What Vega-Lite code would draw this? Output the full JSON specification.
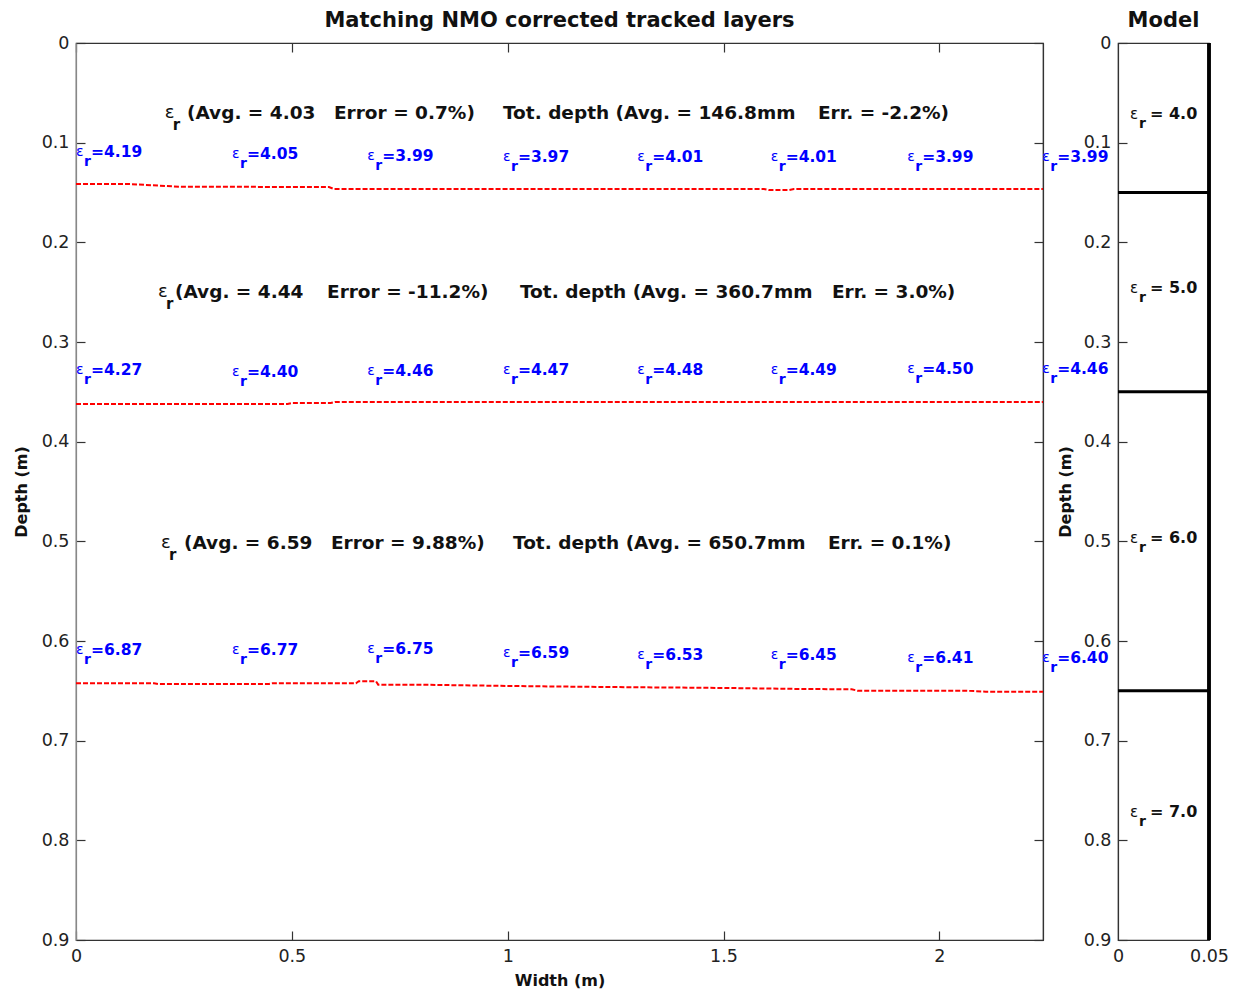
{
  "$schema": "https://vega.github.io/schema/vega-lite/v6.json",
  "padding": {"left": 12, "top": 9, "right": 5, "bottom": 5},
  "bounds": "flush",
  "spacing": 75,
  "config": {
    "font": "DejaVu Sans",
    "view": {"stroke": "#333", "strokeWidth": 1.2},
    "axis": {
      "grid": false, "domainColor": "#333", "tickColor": "#333", "domainWidth": 1.2, "tickWidth": 1.2,
      "labelFont": "DejaVu Sans", "labelFontSize": 17.5, "labelColor": "#222", "labelFlush": false,
      "titleFont": "DejaVu Sans", "titleFontWeight": "bold", "titleFontSize": 16, "titleColor": "#111",
      "tickSize": -9, "labelPadding": 16
    },
    "title": {"font": "DejaVu Sans", "fontSize": 21, "fontWeight": "bold", "color": "#111"}
  },
  "datasets": {
    "lines": [
      {"layer": 1, "x": 0, "depth": 0.1415}, {"layer": 1, "x": 0.1228, "depth": 0.1415}, {"layer": 1, "x": 0.2386, "depth": 0.1442},
      {"layer": 1, "x": 0.586, "depth": 0.1445}, {"layer": 1, "x": 0.5976, "depth": 0.1465}, {"layer": 1, "x": 1.5935, "depth": 0.1465},
      {"layer": 1, "x": 1.605, "depth": 0.1475}, {"layer": 1, "x": 1.6514, "depth": 0.1475}, {"layer": 1, "x": 1.663, "depth": 0.1465},
      {"layer": 1, "x": 2.24, "depth": 0.1465},
      {"layer": 2, "x": 0, "depth": 0.3622}, {"layer": 2, "x": 0.49, "depth": 0.3622}, {"layer": 2, "x": 0.5, "depth": 0.3612},
      {"layer": 2, "x": 0.59, "depth": 0.3612}, {"layer": 2, "x": 0.6, "depth": 0.3602}, {"layer": 2, "x": 2.24, "depth": 0.3602},
      {"layer": 3, "x": 0, "depth": 0.6424}, {"layer": 3, "x": 0.1807, "depth": 0.6424}, {"layer": 3, "x": 0.19, "depth": 0.6431},
      {"layer": 3, "x": 0.447, "depth": 0.6431}, {"layer": 3, "x": 0.455, "depth": 0.6424}, {"layer": 3, "x": 0.6485, "depth": 0.6424},
      {"layer": 3, "x": 0.655, "depth": 0.6404}, {"layer": 3, "x": 0.6949, "depth": 0.6404}, {"layer": 3, "x": 0.7, "depth": 0.6438},
      {"layer": 3, "x": 0.794, "depth": 0.6438}, {"layer": 3, "x": 0.9977, "depth": 0.6451}, {"layer": 3, "x": 1.211, "depth": 0.6461},
      {"layer": 3, "x": 1.4986, "depth": 0.6471}, {"layer": 3, "x": 1.6746, "depth": 0.6481}, {"layer": 3, "x": 1.797, "depth": 0.6485},
      {"layer": 3, "x": 1.81, "depth": 0.6498}, {"layer": 3, "x": 2.0567, "depth": 0.6498}, {"layer": 3, "x": 2.1077, "depth": 0.6508},
      {"layer": 3, "x": 2.24, "depth": 0.6508}
    ],
    "labels": [
      {"x": 0, "depth": 0.1091, "val": "=4.19"}, {"x": 0.3613, "depth": 0.1117, "val": "=4.05"}, {"x": 0.6746, "depth": 0.1134, "val": "=3.99"},
      {"x": 0.989, "depth": 0.1141, "val": "=3.97"}, {"x": 1.2999, "depth": 0.1145, "val": "=4.01"}, {"x": 1.6091, "depth": 0.1145, "val": "=4.01"},
      {"x": 1.9254, "depth": 0.1141, "val": "=3.99"}, {"x": 2.2381, "depth": 0.1145, "val": "=3.99"},
      {"x": 0, "depth": 0.3281, "val": "=4.27"}, {"x": 0.3613, "depth": 0.3298, "val": "=4.40"}, {"x": 0.6746, "depth": 0.3288, "val": "=4.46"},
      {"x": 0.989, "depth": 0.3281, "val": "=4.47"}, {"x": 1.2999, "depth": 0.3281, "val": "=4.48"}, {"x": 1.6091, "depth": 0.3281, "val": "=4.49"},
      {"x": 1.9254, "depth": 0.3274, "val": "=4.50"}, {"x": 2.2381, "depth": 0.3274, "val": "=4.46"},
      {"x": 0, "depth": 0.609, "val": "=6.87"}, {"x": 0.3613, "depth": 0.609, "val": "=6.77"}, {"x": 0.6746, "depth": 0.6083, "val": "=6.75"},
      {"x": 0.989, "depth": 0.612, "val": "=6.59"}, {"x": 1.2999, "depth": 0.614, "val": "=6.53"}, {"x": 1.6091, "depth": 0.614, "val": "=6.45"},
      {"x": 1.9254, "depth": 0.6167, "val": "=6.41"}, {"x": 2.2381, "depth": 0.6173, "val": "=6.40"}
    ],
    "noteEps": [
      {"x": 0.2054, "depth": 0.0702}, {"x": 0.1899, "depth": 0.2502}, {"x": 0.1969, "depth": 0.5017}
    ],
    "notes": [
      {"x": 0.2571, "depth": 0.0702, "txt": "(Avg. = 4.03"}, {"x": 0.5976, "depth": 0.0702, "txt": "Error = 0.7%)"},
      {"x": 0.989, "depth": 0.0702, "txt": "Tot. depth (Avg. = 146.8mm"}, {"x": 1.7186, "depth": 0.0702, "txt": "Err. = -2.2%)"},
      {"x": 0.2293, "depth": 0.2502, "txt": "(Avg. = 4.44"}, {"x": 0.5814, "depth": 0.2502, "txt": "Error = -11.2%)"},
      {"x": 1.0284, "depth": 0.2502, "txt": "Tot. depth (Avg. = 360.7mm"}, {"x": 1.751, "depth": 0.2502, "txt": "Err. = 3.0%)"},
      {"x": 0.2501, "depth": 0.5017, "txt": "(Avg. = 6.59"}, {"x": 0.5906, "depth": 0.5017, "txt": "Error = 9.88%)"},
      {"x": 1.0122, "depth": 0.5017, "txt": "Tot. depth (Avg. = 650.7mm"}, {"x": 1.7418, "depth": 0.5017, "txt": "Err. = 0.1%)"}
    ],
    "bounds": [{"depth": 0.15}, {"depth": 0.35}, {"depth": 0.65}],
    "modelLabels": [
      {"x": 0.0066, "depth": 0.0712, "val": "= 4.0"}, {"x": 0.0066, "depth": 0.2458, "val": "= 5.0"},
      {"x": 0.0066, "depth": 0.497, "val": "= 6.0"}, {"x": 0.0066, "depth": 0.7716, "val": "= 7.0"}
    ]
  },
  "hconcat": [
    {
      "width": 967,
      "height": 897,
      "title": {"text": "Matching NMO corrected tracked layers", "offset": 3},
      "resolve": {"axis": {"x": "independent", "y": "independent"}},
      "layer": [
        {
          "data": {"name": "lines"},
          "mark": {"type": "line", "color": "#ff0000", "strokeWidth": 2, "strokeDash": [5, 2]},
          "encoding": {
            "x": {"field": "x", "type": "quantitative", "scale": {"domain": [0, 2.24], "nice": false, "zero": false},
                  "axis": {"orient": "bottom", "title": "Width (m)", "values": [0, 0.5, 1, 1.5, 2], "format": "~g", "titlePadding": 8}},
            "y": {"field": "depth", "type": "quantitative", "scale": {"domain": [0, 0.9], "nice": false, "zero": false, "reverse": true},
                  "axis": {"orient": "left", "title": "Depth (m)", "values": [0, 0.1, 0.2, 0.3, 0.4, 0.5, 0.6, 0.7, 0.8, 0.9], "format": ".1~f", "titlePadding": 12, "domainColor": "#888"}},
            "detail": {"field": "layer"}
          }
        },
        {
          "data": {"name": "labels"},
          "mark": {"type": "text", "text": "ε", "align": "left", "baseline": "middle", "fontSize": 14, "color": "#0000ff"},
          "encoding": {
            "x": {"field": "x", "type": "quantitative", "scale": {"domain": [0, 2.24], "nice": false, "zero": false},
                  "axis": {"orient": "top", "labels": false, "title": null, "values": [0, 0.5, 1, 1.5, 2]}},
            "y": {"field": "depth", "type": "quantitative", "scale": {"domain": [0, 0.9], "nice": false, "zero": false, "reverse": true},
                  "axis": {"orient": "right", "labels": false, "title": null, "values": [0, 0.1, 0.2, 0.3, 0.4, 0.5, 0.6, 0.7, 0.8, 0.9]}}
          }
        },
        {
          "data": {"name": "labels"},
          "mark": {"type": "text", "text": "r", "align": "left", "baseline": "middle", "fontSize": 14, "fontWeight": "bold", "color": "#0000ff", "dx": 8, "dy": 10},
          "encoding": {
            "x": {"field": "x", "type": "quantitative", "scale": {"domain": [0, 2.24], "nice": false, "zero": false}, "axis": null},
            "y": {"field": "depth", "type": "quantitative", "scale": {"domain": [0, 0.9], "nice": false, "zero": false, "reverse": true}, "axis": null}
          }
        },
        {
          "data": {"name": "labels"},
          "mark": {"type": "text", "align": "left", "baseline": "middle", "fontSize": 15.5, "fontWeight": "bold", "color": "#0000ff", "dx": 15},
          "encoding": {
            "x": {"field": "x", "type": "quantitative", "scale": {"domain": [0, 2.24], "nice": false, "zero": false}, "axis": null},
            "y": {"field": "depth", "type": "quantitative", "scale": {"domain": [0, 0.9], "nice": false, "zero": false, "reverse": true}, "axis": null},
            "text": {"field": "val"}
          }
        },
        {
          "data": {"name": "noteEps"},
          "mark": {"type": "text", "text": "ε", "align": "left", "baseline": "middle", "fontSize": 18, "color": "#111"},
          "encoding": {
            "x": {"field": "x", "type": "quantitative", "scale": {"domain": [0, 2.24], "nice": false, "zero": false}, "axis": null},
            "y": {"field": "depth", "type": "quantitative", "scale": {"domain": [0, 0.9], "nice": false, "zero": false, "reverse": true}, "axis": null}
          }
        },
        {
          "data": {"name": "noteEps"},
          "mark": {"type": "text", "text": "r", "align": "left", "baseline": "middle", "fontSize": 15, "fontWeight": "bold", "color": "#111", "dx": 8, "dy": 12},
          "encoding": {
            "x": {"field": "x", "type": "quantitative", "scale": {"domain": [0, 2.24], "nice": false, "zero": false}, "axis": null},
            "y": {"field": "depth", "type": "quantitative", "scale": {"domain": [0, 0.9], "nice": false, "zero": false, "reverse": true}, "axis": null}
          }
        },
        {
          "data": {"name": "notes"},
          "mark": {"type": "text", "align": "left", "baseline": "middle", "fontSize": 18.5, "fontWeight": "bold", "color": "#111"},
          "encoding": {
            "x": {"field": "x", "type": "quantitative", "scale": {"domain": [0, 2.24], "nice": false, "zero": false}, "axis": null},
            "y": {"field": "depth", "type": "quantitative", "scale": {"domain": [0, 0.9], "nice": false, "zero": false, "reverse": true}, "axis": null},
            "text": {"field": "txt"}
          }
        }
      ]
    },
    {
      "width": 91,
      "height": 897,
      "title": {"text": "Model", "offset": 3},
      "layer": [
        {
          "data": {"name": "bounds"},
          "mark": {"type": "rule", "color": "#000", "strokeWidth": 3},
          "encoding": {
            "y": {"field": "depth", "type": "quantitative", "scale": {"domain": [0, 0.9], "nice": false, "zero": false, "reverse": true},
                  "axis": {"orient": "left", "title": "Depth (m)", "values": [0, 0.1, 0.2, 0.3, 0.4, 0.5, 0.6, 0.7, 0.8, 0.9], "format": ".1~f", "titlePadding": 10}}
          }
        },
        {
          "data": {"name": "modelLabels"},
          "mark": {"type": "rule", "color": "#000", "strokeWidth": 3},
          "encoding": {
            "x": {"datum": 0.05, "type": "quantitative", "scale": {"domain": [0, 0.05], "nice": false, "zero": false},
                  "axis": {"orient": "bottom", "title": null, "values": [0, 0.05], "format": ".2~f", "ticks": false, "labelPadding": 7}}
          }
        },
        {
          "data": {"name": "modelLabels"},
          "mark": {"type": "text", "text": "ε", "align": "left", "baseline": "middle", "fontSize": 15, "color": "#111"},
          "encoding": {
            "x": {"field": "x", "type": "quantitative", "scale": {"domain": [0, 0.05], "nice": false, "zero": false}},
            "y": {"field": "depth", "type": "quantitative", "scale": {"domain": [0, 0.9], "nice": false, "zero": false, "reverse": true}}
          }
        },
        {
          "data": {"name": "modelLabels"},
          "mark": {"type": "text", "text": "r", "align": "left", "baseline": "middle", "fontSize": 14, "fontWeight": "bold", "color": "#111", "dx": 9, "dy": 10},
          "encoding": {
            "x": {"field": "x", "type": "quantitative", "scale": {"domain": [0, 0.05], "nice": false, "zero": false}},
            "y": {"field": "depth", "type": "quantitative", "scale": {"domain": [0, 0.9], "nice": false, "zero": false, "reverse": true}}
          }
        },
        {
          "data": {"name": "modelLabels"},
          "mark": {"type": "text", "align": "left", "baseline": "middle", "fontSize": 16, "fontWeight": "bold", "color": "#111", "dx": 20},
          "encoding": {
            "x": {"field": "x", "type": "quantitative", "scale": {"domain": [0, 0.05], "nice": false, "zero": false}},
            "y": {"field": "depth", "type": "quantitative", "scale": {"domain": [0, 0.9], "nice": false, "zero": false, "reverse": true}},
            "text": {"field": "val"}
          }
        }
      ]
    }
  ]
}
